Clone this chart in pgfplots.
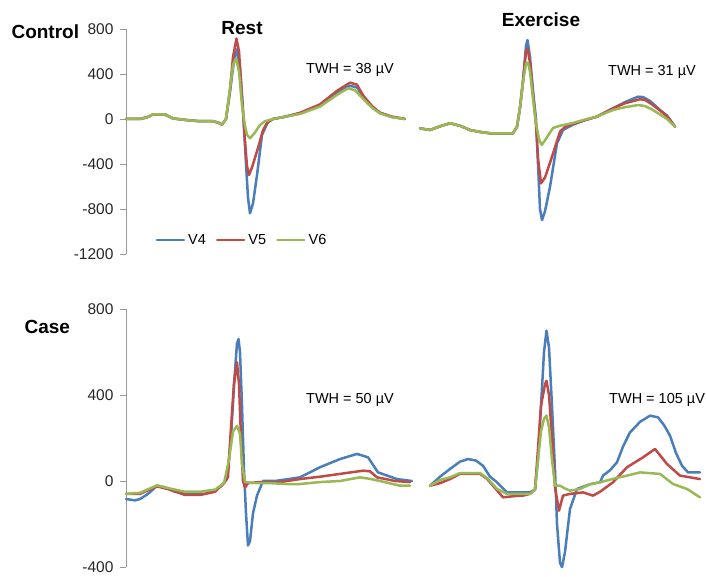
\documentclass[border=0pt]{standalone}
\usepackage{fontspec}
\setmainfont{Liberation Sans}
\usepackage{pgfplots}
\pgfplotsset{compat=1.18}
\definecolor{cVfour}{RGB}{74,126,187}
\definecolor{cVfive}{RGB}{190,75,72}
\definecolor{cVsix}{RGB}{152,185,84}
\pgfplotsset{ecg/.style={
  scale only axis, clip=false, xmin=126, xmax=706, width=580pt,
  axis x line=none, axis y line*=left,
  y axis line style={black!40, line width=0.8pt},
  ytick style={black!40, line width=0.8pt},
  tick align=outside, major tick length=6pt,
  yticklabel style={font=\fontsize{15.5}{17}\selectfont, text=black!85, xshift=-3pt},
  /pgf/number format/assume math mode=true,
  /pgf/number format/1000 sep={},
  unbounded coords=jump,
  every axis plot/.append style={line width=2.5pt, line join=round, line cap=round, no marks},
}}
\begin{document}
\begin{tikzpicture}
\path (0pt,0pt) rectangle (706pt,577pt);
% ---------------- Control ----------------
\begin{axis}[ecg, at={(126pt,323pt)}, anchor=south west, height=225pt,
  ymin=-1200, ymax=800, ytick={-1200,-800,-400,0,400,800},
  legend style={at={(0.2,0.062)}, anchor=center, draw=none, fill=none,
    legend columns=3, font=\fontsize{14.5}{16}\selectfont,
    /tikz/every odd column/.append style={column sep=1pt},
    /tikz/every even column/.append style={column sep=8pt}},
  legend image code/.code={\draw[#1, line width=2.5pt] (0pt,0pt) -- (27pt,0pt);}]
\addplot[cVfour] coordinates {
(126,0) (140,0) (147,15) (153,40) (165,40) (173,5) (187,-10) (200,-20) (213,-20) (219,-35) (222,-50) (226,0) (230,240) (234,520) (237,620) (240,450) (243,80) (246,-400) (248,-700) (250,-838) (253,-750) (257,-500) (262,-142) (268,-24) (273,0) (285,20) (300,50) (320,120) (337,230) (350,295) (357,280) (363,200) (372,110) (380,55) (392,20) (405,0)
(412,nan)
(420,-83) (430,-98) (440,-65) (450,-38) (460,-60) (470,-98) (480,-115) (490,-127) (505,-127) (513,-127) (517,-68) (520,100) (523,347) (526,650) (527.5,702) (530,550) (533,250) (536,0) (538,-400) (540,-800) (542,-898) (545,-820) (550,-602) (557,-216) (563,-98) (573,-50) (585,-10) (597,21) (613,95) (625,150) (638,198) (643,195) (650,160) (660,80) (667,30) (675,-68)
};
\addlegendentry{V4}
\addplot[cVfive] coordinates {
(126,0) (140,0) (147,15) (153,40) (165,40) (173,5) (187,-10) (200,-20) (213,-20) (219,-35) (222,-50) (226,0) (230,260) (233,550) (236.5,715) (239,600) (242,200) (245,-200) (247,-420) (249,-498) (252,-430) (258,-258) (263,-100) (267,-35) (273,0) (285,20) (300,55) (320,130) (337,250) (350,323) (357,305) (363,210) (372,115) (380,55) (392,20) (405,0)
(412,nan)
(420,-83) (430,-98) (440,-65) (450,-38) (460,-60) (470,-98) (480,-115) (490,-127) (505,-127) (513,-127) (517,-68) (520,100) (523,330) (526,600) (527.5,628) (530,500) (533,220) (536,-50) (538,-350) (541,-572) (545,-520) (552,-335) (560,-113) (565,-70) (573,-45) (585,-10) (597,21) (613,95) (625,140) (640,175) (645,170) (652,130) (660,75) (667,25) (675,-68)
};
\addlegendentry{V5}
\addplot[cVsix] coordinates {
(126,0) (140,0) (147,15) (153,40) (165,40) (173,5) (187,-10) (200,-20) (213,-20) (219,-35) (222,-50) (226,0) (230,270) (233,480) (236,540) (239,420) (242,120) (245,-60) (247,-140) (250,-172) (255,-120) (260,-53) (265,-20) (273,0) (285,20) (300,45) (320,110) (337,215) (348,273) (355,255) (363,180) (372,100) (380,50) (392,15) (405,0)
(412,nan)
(420,-83) (430,-98) (440,-65) (450,-38) (460,-60) (470,-98) (480,-115) (490,-127) (505,-127) (513,-127) (517,-68) (520,100) (523,330) (526,495) (528,500) (530,420) (533,180) (536,-40) (539,-180) (541.7,-231) (545,-190) (553,-80) (560,-60) (573,-35) (585,-5) (597,21) (613,80) (625,105) (638,124) (645,115) (652,85) (660,40) (667,0) (675,-68)
};
\addlegendentry{V6}
\end{axis}
% ---------------- Case ----------------
\begin{axis}[ecg, at={(126pt,10pt)}, anchor=south west, height=258pt,
  ymin=-400, ymax=800, ytick={-400,0,400,800}]
\addplot[cVfour] coordinates {
(126,-84) (135,-90) (140,-84) (148,-60) (157,-22) (165,-30) (175,-50) (190,-60) (205,-60) (215,-45) (222,-20) (227,10) (231,200) (234,450) (237,640) (238.5,660) (240,600) (242,350) (244,50) (246,-150) (248,-300) (250,-280) (253,-150) (257,-68) (263,0) (275,0) (290,10) (300,17) (320,64) (340,102) (357,126) (368,110) (378,40) (397,9) (412,0)
(420,nan)
(430,-22) (440,20) (450,56) (460,90) (468,102) (476,95) (483,71) (490,20) (497,-6) (507,-53) (520,-53) (530,-53) (535,-40) (538,100) (541,350) (544,600) (546.5,699) (549,620) (552,350) (555,50) (557,-200) (560,-380) (562,-401) (565,-330) (570,-130) (577,-37) (590,-15) (600,-6) (603,25) (610,50) (617,87) (623,160) (630,226) (640,275) (650,304) (658,296) (664,260) (670,211) (676,130) (682,71) (688,40) (700,40)
};
\addplot[cVfive] coordinates {
(126,-60) (140,-60) (157,-25) (170,-40) (185,-65) (200,-65) (215,-50) (224,-10) (228,20) (231,250) (234,450) (237,552) (239,450) (241,200) (243,0) (245,-30) (248,-10) (260,-5) (280,-5) (300,9) (320,20) (340,33) (363,48) (370,45) (377,17) (395,0) (410,-5)
(420,nan)
(430,-22) (440,-10) (450,9) (460,33) (480,33) (487,10) (493,-22) (503,-76) (515,-70) (523,-68) (530,-60) (535,-40) (538,150) (541,350) (545,450) (546.5,466) (549,400) (552,200) (555,-30) (559,-138) (563,-68) (570,-60) (583,-53) (593,-68) (600,-50) (613,-6) (627,64) (643,110) (655,149) (660,120) (667,79) (680,25) (700,9)
};
\addplot[cVsix] coordinates {
(126,-60) (140,-55) (157,-20) (170,-35) (185,-50) (200,-50) (215,-40) (224,-10) (229,100) (233,230) (237,257) (240,220) (242,80) (245,-5) (255,-10) (270,-10) (290,-15) (300,-14) (320,-5) (340,0) (360,17) (370,10) (380,0) (400,-22) (410,-22)
(420,nan)
(430,-22) (440,5) (450,17) (460,37) (480,37) (488,10) (497,-37) (507,-60) (530,-60) (535,-40) (538,100) (541,230) (544,290) (546.5,304) (549,250) (552,100) (555,-22) (560,-22) (565,-35) (570,-45) (580,-37) (590,-15) (600,-6) (613,10) (627,25) (640,40) (660,33) (673,-14) (687,-37) (700,-76)
};
\end{axis}
% ---------------- texts ----------------
\node[anchor=west, font=\bfseries\fontsize{19}{22}\selectfont] at (8pt,545pt) {Control};
\node[font=\bfseries\fontsize{19}{22}\selectfont] at (242pt,549pt) {Rest};
\node[font=\bfseries\fontsize{19}{22}\selectfont] at (541pt,557pt) {Exercise};
\node[anchor=west, font=\bfseries\fontsize{19}{22}\selectfont] at (21pt,250pt) {Case};
\node[font=\fontsize{14.5}{16}\selectfont] at (350pt,507pt) {TWH = 38 µV};
\node[font=\fontsize{14.5}{16}\selectfont] at (652pt,505pt) {TWH = 31 µV};
\node[font=\fontsize{14.5}{16}\selectfont] at (350pt,177pt) {TWH = 50 µV};
\node[anchor=west, inner sep=0pt, font=\fontsize{14.5}{16}\selectfont] at (609pt,177pt) {TWH = 105 µV};
\end{tikzpicture}
\end{document}
